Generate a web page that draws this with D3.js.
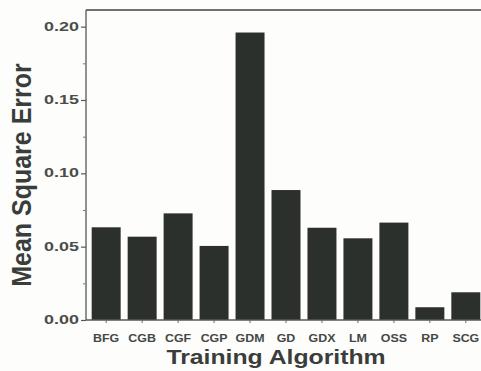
<!DOCTYPE html>
<html><head><meta charset="utf-8">
<script src="https://cdn.jsdelivr.net/npm/d3@7"></script>
<style>body{margin:0;background:#fff}svg{display:block}text{font-family:"Liberation Sans",Arial,sans-serif;font-weight:bold}</style>
</head><body>
<script>
const categories = ["BFG","CGB","CGF","CGP","GDM","GD","GDX","LM","OSS","RP","SCG"];
const mseValues = [0.0632,0.0568,0.0727,0.0505,0.196,0.0886,0.0629,0.0557,0.0664,0.0087,0.0189];
const yTickValues = [0.00,0.05,0.10,0.15,0.20];
const yMinorTicks = [0.025,0.075,0.125,0.175];

(function(){
const W=481,H=371;
const svg=d3.select("body").append("svg").attr("width",W).attr("height",H);
svg.append("rect").attr("width",W).attr("height",H).attr("fill","#fdfdfc");

const mLeft=86, mBottom=320, mTop=10, mRight=486;
const x=d3.scaleBand().domain(categories).range([mLeft,mRight]).paddingInner(0.194).paddingOuter(0.158);
const y=d3.scaleLinear().domain([0,(mBottom-mTop)/1466.7]).range([mBottom,mTop]);

// bars
svg.selectAll("rect.bar").data(categories).join("rect").attr("class","bar")
  .attr("x",d=>x(d)).attr("width",x.bandwidth())
  .attr("y",(d,i)=>y(mseValues[i])).attr("height",(d,i)=>y(0)-y(mseValues[i]))
  .attr("fill","#2c302c");

// frame lines
svg.append("line").attr("x1",mLeft).attr("x2",W).attr("y1",mTop).attr("y2",mTop).attr("stroke","#6f7170").attr("stroke-width",1.8);
svg.append("line").attr("x1",mLeft).attr("x2",mLeft).attr("y1",mTop).attr("y2",mBottom).attr("stroke","#555955").attr("stroke-width",1.3);
svg.append("line").attr("x1",mLeft).attr("x2",W).attr("y1",mBottom).attr("y2",mBottom).attr("stroke","#555955").attr("stroke-width",1.3);

// y axis
const yAxis=d3.axisLeft(y).tickValues(yTickValues).tickSize(5).tickFormat(d3.format(".2f"));
const gy=svg.append("g").attr("transform",`translate(${mLeft},0)`).call(yAxis);
gy.select(".domain").remove();
gy.selectAll(".tick line").attr("stroke","#555955").attr("stroke-width",1.2);
gy.selectAll(".tick text").attr("fill","#4a4d4a").attr("font-size",13).attr("font-family","Liberation Sans, Arial").attr("font-weight","bold")
  .attr("x",0).attr("dy",null).attr("dominant-baseline","middle")
  .attr("transform","translate(-7,0) scale(1.38,1)");
const yMinor=d3.axisLeft(y).tickValues(yMinorTicks).tickSize(3).tickFormat("");
const gym=svg.append("g").attr("transform",`translate(${mLeft},0)`).call(yMinor);
gym.select(".domain").remove();
gym.selectAll(".tick line").attr("stroke","#777a77");

// x axis
const xAxis=d3.axisBottom(x).tickSize(3).tickSizeOuter(0);
const gx=svg.append("g").attr("transform",`translate(0,${mBottom})`).call(xAxis);
gx.select(".domain").remove();
gx.selectAll(".tick line").attr("stroke","#666a66");
gx.selectAll(".tick text").attr("fill","#454845").attr("font-size",11.3).attr("font-family","Liberation Sans, Arial").attr("font-weight","bold")
  .attr("y",0).attr("dy",null).attr("transform","translate(0,21.8) scale(1.1,1)");

// axis titles
svg.append("text").text("Training Algorithm").attr("fill","#3a3d3a").attr("font-size",21)
  .attr("text-anchor","middle").attr("transform","translate(276,364) scale(1.18,1)");
svg.append("text").text("Mean Square Error").attr("fill","#3a3d3a").attr("font-size",25)
  .attr("text-anchor","middle").attr("transform","translate(31,175) scale(1.12,1) rotate(-90)");
})();
</script>
</body></html>
